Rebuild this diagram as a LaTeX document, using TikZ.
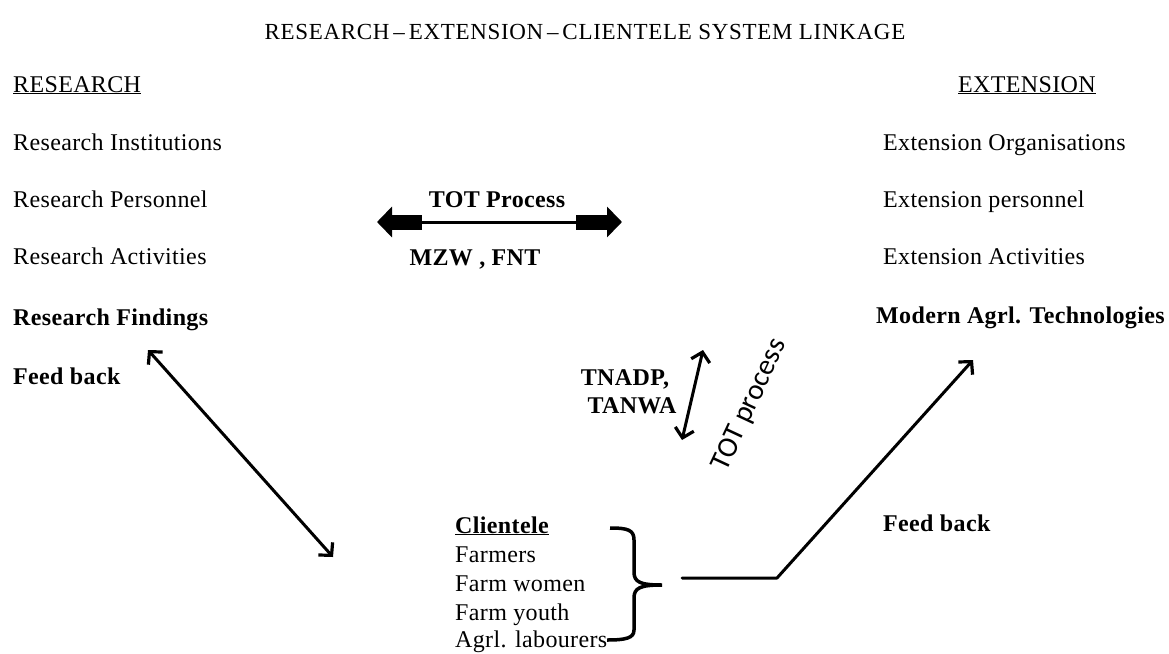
\documentclass[tikz,border=0pt]{standalone}
\usepackage{fontspec}
\setmainfont{Liberation Serif}[LetterSpace=1.5]
\newfontfamily\titlefont{Liberation Serif}[LetterSpace=3]
\newfontfamily\calfont{Carlito}
\usetikzlibrary{arrows.meta}
\begin{document}
\begin{tikzpicture}[x=1pt,y=-1pt,
  lbl/.style={inner sep=0pt, anchor=base west, font=\fontsize{24}{28}\selectfont},
  blbl/.style={lbl, font=\fontsize{24}{28}\selectfont\bfseries},
  cbl/.style={inner sep=0pt, anchor=base, font=\fontsize{24}{28}\selectfont\bfseries},
  link/.style={line width=3pt, line cap=round},
  barb/.tip={Straight Barb[length=9pt,width=19pt,line width=3.2pt]},
  fat/.style={line width=15pt, -{Triangle[length=15pt,width=30pt]}}]
\useasboundingbox (0,0) rectangle (1169,653);
\fill[white] (0,0) rectangle (1169,653);

% heading
\node[inner sep=0pt, anchor=base, font=\titlefont\fontsize{23}{26}\selectfont] (title) at (585,39)
  {RESEARCH\,\textendash\,EXTENSION\,\textendash\,CLIENTELE SYSTEM LINKAGE};

% research column
\node[lbl] (resH) at (13,92) {\underline{RESEARCH}};
\node[lbl] (r1) at (13,150) {Research Institutions};
\node[lbl] (r2) at (13,207) {Research Personnel};
\node[lbl] (r3) at (13,264) {Research Activities};
\node[blbl] (r4) at (13,325) {Research Findings};
\node[blbl] (r5) at (13,384) {Feed back};

% extension column
\node[lbl] (extH) at (958,92) {\underline{EXTENSION}};
\node[lbl] (e1) at (883,150) {Extension Organisations};
\node[lbl] (e2) at (883,207) {Extension personnel};
\node[lbl] (e3) at (883,264) {Extension Activities};
\node[blbl] (e4) at (876,323) {Modern Agrl. Technologies};
\node[blbl] (e5) at (883,531) {Feed back};

% transfer of technology between research and extension
\node[cbl] (tot) at (497,207) {TOT Process};
\node[cbl] (mzw) at (475,265) {MZW , FNT};
\coordinate (totL) at (377,222);
\coordinate (totR) at (622,222);
\coordinate (barL) at (422,222);
\coordinate (barR) at (576,222);
\draw[line width=3pt] (barL) -- (barR);
\draw[fat] (barL) -- (totL);
\draw[fat] (barR) -- (totR);

% state level schemes
\node[cbl] (tnadp) at (625,385) {TNADP,};
\node[cbl] (tanwa) at (632,413) {TANWA};
\coordinate (tnU) at (703,350);
\coordinate (tnD) at (682,440);
\draw[link, barb-barb] (tnD) -- (tnU);

\node[inner sep=0pt, rotate=65, font=\calfont\fontsize{29}{33}\selectfont] (totp) at (750,405) {TOT process};

% clientele
\node[blbl] (cl0) at (455,533) {\underline{Clientele}};
\node[lbl] (cl1) at (455,562) {Farmers};
\node[lbl] (cl2) at (455,591) {Farm women};
\node[lbl] (cl3) at (455,620) {Farm youth};
\node[lbl] (cl4) at (455,647) {Agrl. labourers};

\coordinate (braceTop) at (610,528);
\coordinate (braceTip) at (662,585);
\coordinate (braceBot) at (607,640);
\draw[line width=3.5pt, line join=round]
  (braceTop) .. controls (628,528) and (634,530) .. (634,540) -- (634,572)
  .. controls (634,582) and (640,585) .. (braceTip)
  (braceTip) .. controls (640,585) and (634,588) .. (634,598) -- (634,630)
  .. controls (634,638) and (626,640) .. (braceBot);

% research <-> clientele
\coordinate (rfA) at (148,350);
\coordinate (rfB) at (333,557);
\draw[link, barb-barb] (rfA) -- (rfB);

% clientele -> extension
\coordinate (linkStart) at (682,578);
\coordinate (linkKnee) at (777,578);
\coordinate (linkEnd) at (973,360);
\draw[link, line join=round, -barb] (linkStart) -- (linkKnee) -- (linkEnd);
\end{tikzpicture}
\end{document}
